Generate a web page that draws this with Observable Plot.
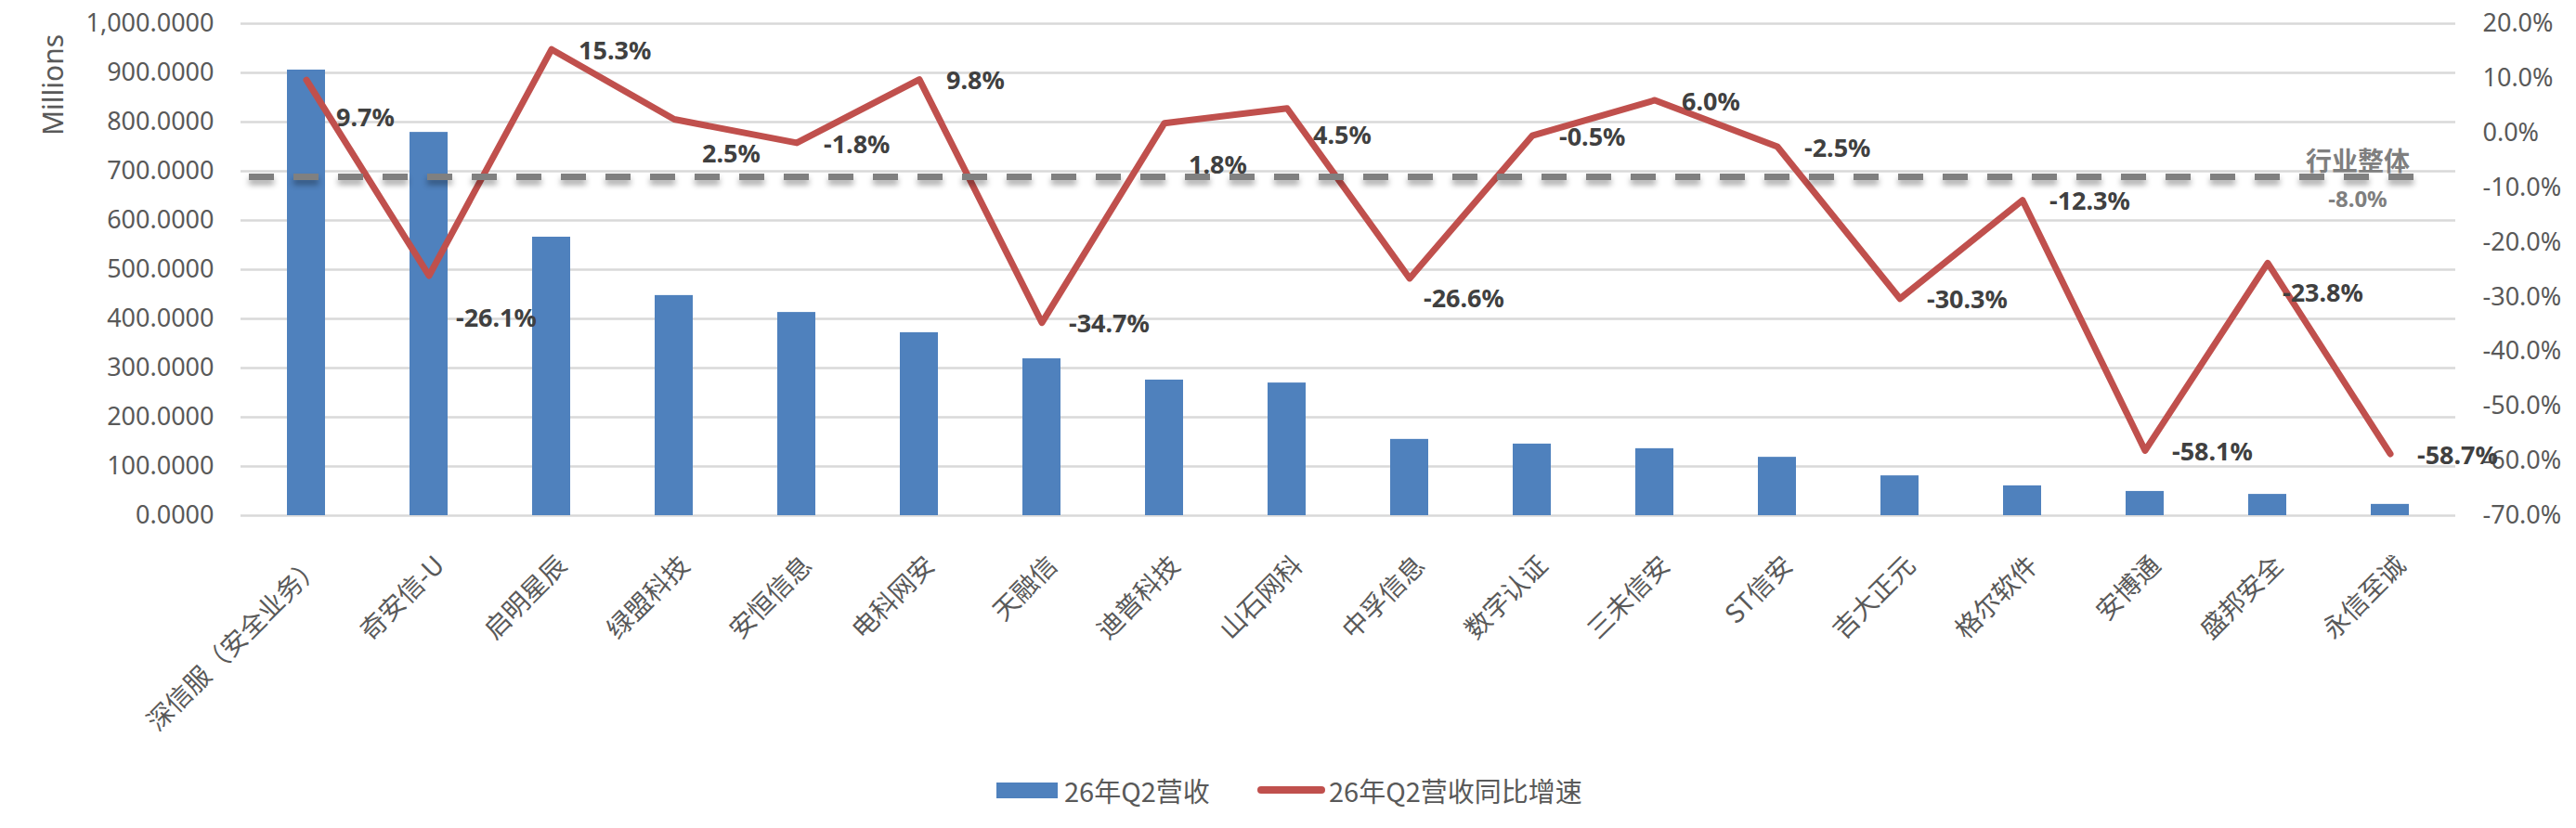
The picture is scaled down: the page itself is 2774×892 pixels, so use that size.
<!DOCTYPE html>
<html>
<head>
<meta charset="utf-8">
<script src="https://cdn.jsdelivr.net/npm/d3@7"></script>
<script src="https://cdn.jsdelivr.net/npm/@observablehq/plot@0.6"></script>
<style>
  html, body { margin: 0; padding: 0; background: #ffffff; }
  #chart svg { display: block; }
  #legend { position: relative; width: 2774px; height: 82px; font-family: "Noto Sans CJK SC", "Noto Sans", sans-serif; font-size: 29px; color: #595959; }
  #legend .sw { position: absolute; }
  #legend .lab { position: absolute; top: 0; line-height: 82px; white-space: nowrap; }
</style>
</head>
<body>
<div id="chart"></div>
<div id="legend"></div>
<script>
// ---- data ----
const categories = ["深信服（安全业务）", "奇安信-U", "启明星辰", "绿盟科技", "安恒信息", "电科网安", "天融信", "迪普科技", "山石网科", "中孚信息", "数字认证", "三未信安", "ST信安", "吉大正元", "格尔软件", "安博通", "盛邦安全", "永信至诚"];
const revenue = [905.7, 779.0, 566.0, 447.4, 413.0, 371.9, 318.8, 275.6, 269.6, 155.0, 145.5, 136.1, 118.6, 80.9, 60.6, 49.2, 43.2, 22.9];
const growth = [9.7, -26.1, 15.3, 2.5, -1.8, 9.8, -34.7, 1.8, 4.5, -26.6, -0.5, 6.0, -2.5, -30.3, -12.3, -58.1, -23.8, -58.7];
const industryGrowth = -8.0;
const industryLabel = "行业整体";
const leftTicks = [0, 100, 200, 300, 400, 500, 600, 700, 800, 900, 1000];
const rightTicks = [20, 10, 0, -10, -20, -30, -40, -50, -60, -70];
const seriesNames = ["26年Q2营收", "26年Q2营收同比增速"];
const leftAxisLabel = "Millions";

// ---- styling (not data) ----
const BLUE = "#4F81BD", RED = "#C0504D", GRID = "#D9D9D9", AXIS_TEXT = "#595959", LABEL_TEXT = "#404040", IND = "#7F7F7F";
const labelNudge = {
  "深信服（安全业务）": [32, 41],
  "奇安信-U": [29, 46],
  "绿盟科技": [30, 38],
  "迪普科技": [26, 46],
  "山石网科": [28, 30],
  "中孚信息": [15, 22],
  "盛邦安全": [16, 33]
};

const leftMax = 1000;
const rightMin = -70, rightMax = 20;
const toLeft = v => (v - rightMin) / (rightMax - rightMin) * leftMax;
const fromLeft = d => d / leftMax * (rightMax - rightMin) + rightMin;

const rows = categories.map((name, i) => ({name, revenue: revenue[i], growth: growth[i]}));

const labelMarks = rows.map(r => {
  const [dx, dy] = labelNudge[r.name] || [29, 2];
  return Plot.text([r], {
    x: "name", y: d => toLeft(d.growth), text: d => d.growth.toFixed(1) + "%",
    dx, dy, textAnchor: "start", lineAnchor: "middle",
    fontFamily: "Noto Sans", fontWeight: "bold", fontSize: 27, fill: LABEL_TEXT
  });
});

const lastCat = categories[categories.length - 1];

const chart = Plot.plot({
  width: 2774,
  height: 810,
  marginLeft: 259,
  marginRight: 130,
  marginTop: 25,
  marginBottom: 255,
  style: {fontFamily: "Noto Sans", fontSize: "27px", color: AXIS_TEXT, background: "#ffffff", overflow: "visible"},
  x: {domain: categories, paddingInner: 0.69, paddingOuter: 0.345, axis: null},
  y: {domain: [0, leftMax], axis: null},
  marks: [
    Plot.gridY(leftTicks, {stroke: GRID, strokeOpacity: 1, strokeWidth: 2.5}),
    Plot.axisY(leftTicks, {anchor: "left", tickSize: 0, tickPadding: 29, tickFormat: d3.format(",.4f"), label: null, fill: AXIS_TEXT, fontSize: 27}),
    Plot.axisY(rightTicks.map(toLeft), {anchor: "right", tickSize: 0, tickPadding: 29, tickFormat: d => fromLeft(d).toFixed(1) + "%", label: null, fill: AXIS_TEXT, fontSize: 27}),
    Plot.text([leftAxisLabel], {frameAnchor: "top-left", dx: -201, dy: 66, rotate: -90, textAnchor: "middle", lineAnchor: "middle", fontSize: 30, fill: AXIS_TEXT}),
    Plot.barY(rows, {x: "name", y: "revenue", fill: BLUE}),
    Plot.text(categories, {x: d => d, frameAnchor: "bottom", dx: 12, dy: 49, rotate: -45, textAnchor: "end", lineAnchor: "middle", fontFamily: "Noto Sans CJK SC", fontSize: 28, fill: AXIS_TEXT}),
    Plot.line(rows, {x: "name", y: d => toLeft(d.growth), stroke: RED, strokeWidth: 7, strokeLinejoin: "round", strokeLinecap: "round"}),
    Plot.ruleY([toLeft(industryGrowth)], {stroke: "#808080", strokeWidth: 7, strokeDasharray: "27,21", insetLeft: 9, insetRight: 37}),
    Plot.text([lastCat], {x: d => d, y: () => toLeft(industryGrowth), text: () => industryLabel, dx: -35, dy: -15, textAnchor: "middle", lineAnchor: "middle", fontFamily: "Noto Sans CJK SC", fontWeight: "bold", fontSize: 28, fill: IND}),
    Plot.text([lastCat], {x: d => d, y: () => toLeft(industryGrowth), text: () => industryGrowth.toFixed(1) + "%", dx: -35, dy: 25, textAnchor: "middle", lineAnchor: "middle", fontFamily: "Noto Sans", fontWeight: "bold", fontSize: 24, fill: IND}),
    ...labelMarks
  ]
});

// soft shadow under the industry dashed line
d3.select(chart).selectAll('g[aria-label="rule"]').style("filter", "drop-shadow(0px 5px 3px rgba(0,0,0,0.35))");

document.getElementById("chart").appendChild(chart);

// legend below the svg
const legend = document.getElementById("legend");
legend.innerHTML = `
  <div class="sw" style="left:1073px;top:33px;width:66px;height:17px;background:${BLUE}"></div>
  <div class="lab" style="left:1146px">${seriesNames[0]}</div>
  <div class="sw" style="left:1354px;top:37px;width:73px;height:8px;border-radius:4px;background:${RED}"></div>
  <div class="lab" style="left:1431px">${seriesNames[1]}</div>
`;
</script>
</body>
</html>
